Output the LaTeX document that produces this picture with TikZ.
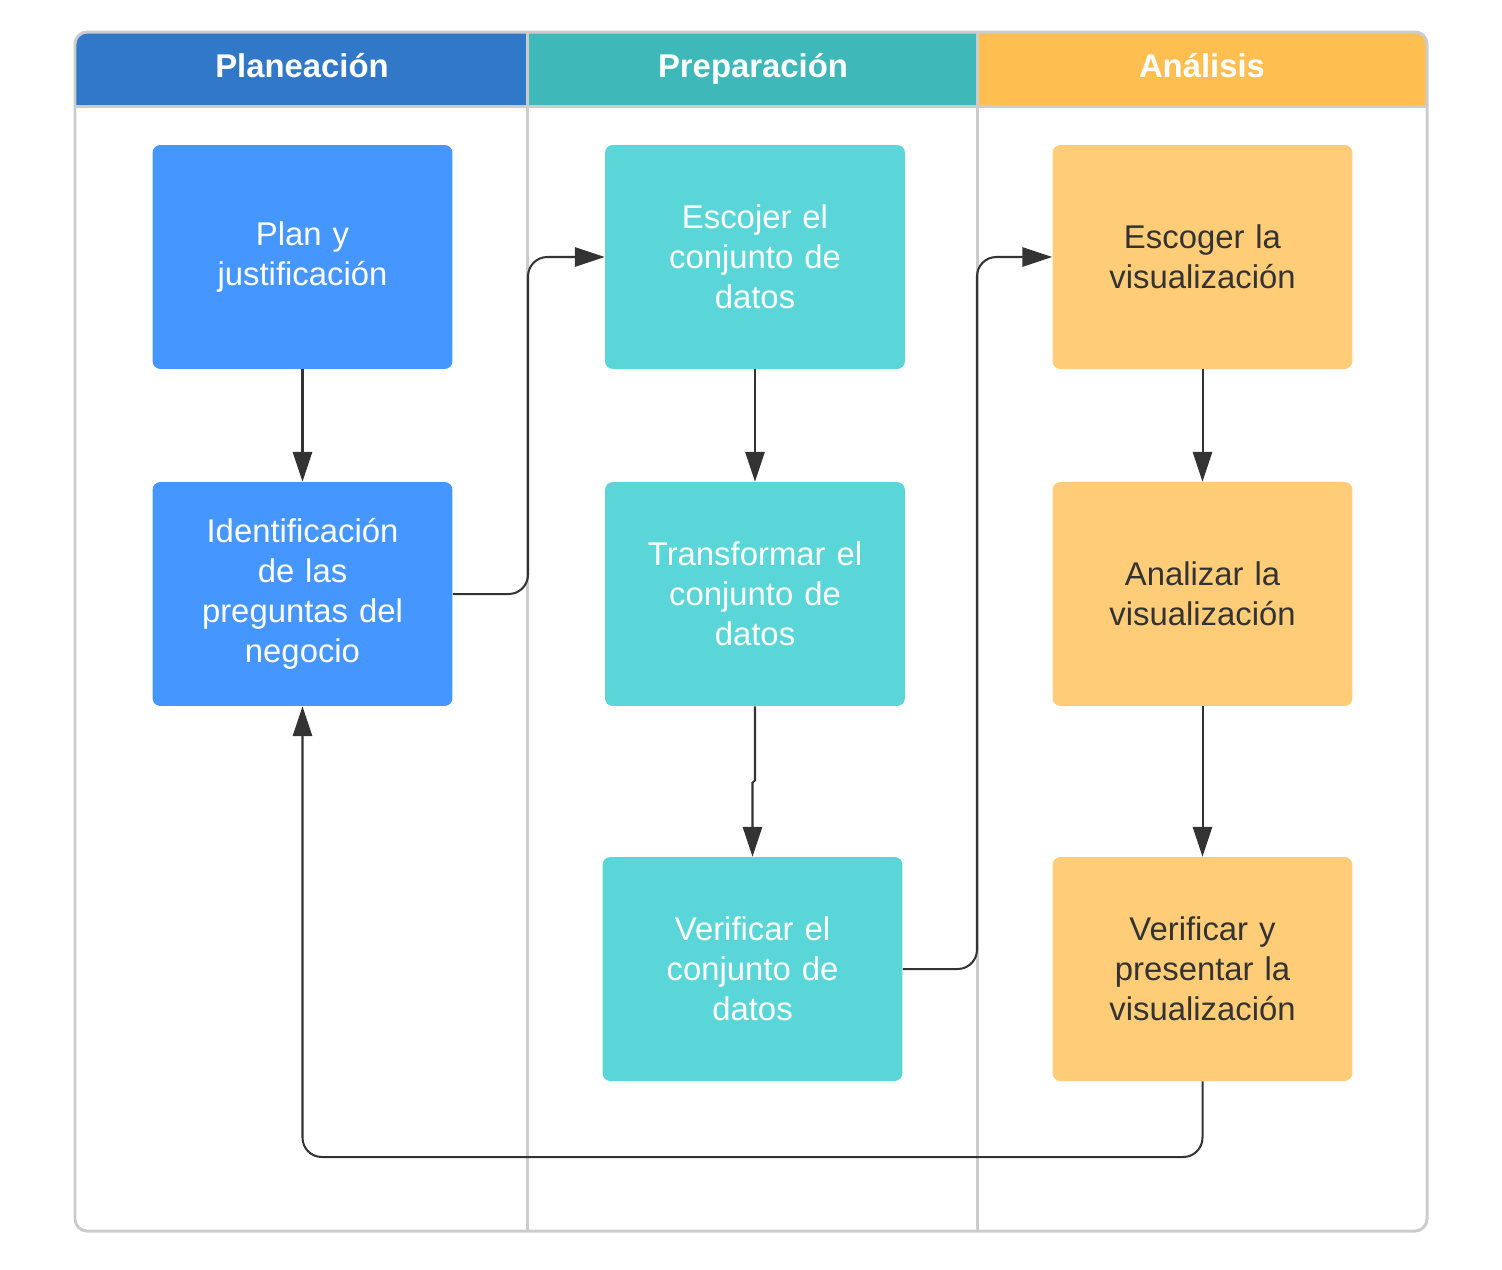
\documentclass[tikz,border=0pt]{standalone}
\usepackage{fontspec}
\setmainfont{Liberation Sans}
\usetikzlibrary{arrows.meta,calc}
\definecolor{hdrblue}{HTML}{3278C8}
\definecolor{hdrteal}{HTML}{3EB8B8}
\definecolor{hdrorange}{HTML}{FFBE50}
\definecolor{boxblue}{HTML}{4596FF}
\definecolor{boxteal}{HTML}{5AD6D8}
\definecolor{boxorange}{HTML}{FFCC77}
\definecolor{framegray}{HTML}{CCCCCC}
\definecolor{ink}{HTML}{333333}
\begin{document}
\begin{tikzpicture}[x=0.02cm,y=-0.02cm,
  procbox/.style={rounded corners=4.5pt, minimum width=6cm, minimum height=4.48cm,
    text width=5.6cm, align=center, inner sep=0pt,
    font=\fontsize{18.7}{22.7}\selectfont},
  bluebox/.style={procbox, fill=boxblue, text=white},
  tealbox/.style={procbox, fill=boxteal, text=white},
  orangebox/.style={procbox, fill=boxorange, text=ink},
  header/.style={font=\bfseries\fontsize{18.7}{22.7}\selectfont, text=white, anchor=base, inner sep=0pt},
  lane/.style={draw=framegray, line width=1.7pt},
  flow/.style={draw=ink, line width=1.15pt, rounded corners=11pt,
    -{Triangle[width=11pt,length=17pt]}}
]
\useasboundingbox (0,0) rectangle (1502,1269);

% header fills
\begin{scope}
  \clip[rounded corners=6.8pt] (75,32) rectangle (1427,1231);
  \fill[hdrblue] (75,32) rectangle (527.5,106);
  \fill[hdrteal] (527.5,32) rectangle (977.5,106);
  \fill[hdrorange] (977.5,32) rectangle (1427,106);
\end{scope}
\draw[lane] (75,106) -- (1427,106);
\draw[lane] (527.5,32) -- (527.5,1231);
\draw[lane] (977.5,32) -- (977.5,1231);
\draw[lane, rounded corners=6.8pt] (75,32) rectangle (1427,1231);

\node[header] (h1) at (302,77) {Planeación};
\node[header] (h2) at (753,77) {Preparación};
\node[header] (h3) at (1202,77) {Análisis};

% process boxes
\node[bluebox] (P) at (302.5,257) {Plan y\\justificación};
\node[bluebox] (I) at (302.5,594) {Identificación\\de las\\preguntas del\\negocio};
\node[tealbox] (E) at (755,257) {Escojer el\\conjunto de\\datos};
\node[tealbox] (T) at (755,594) {Transformar el\\conjunto de\\datos};
\node[tealbox] (V) at (752.5,969) {Verificar el\\conjunto de\\datos};
\node[orangebox] (S) at (1202.5,257) {Escoger la\\visualización};
\node[orangebox] (A) at (1202.5,594) {Analizar la\\visualización};
\node[orangebox] (R) at (1202.5,969) {Verificar y\\presentar la\\visualización};

% routing coordinates
\coordinate (lane2) at (528,0);
\coordinate (lane3) at (977,0);
\coordinate (bottom) at (0,1157);

% connectors
\draw[flow] (P.south) -- (I.north);
\draw[flow] (I.east) -| (lane2 |- E.west) -- (E.west);
\draw[flow] (E.south) -- (T.north);
\draw[flow, rounded corners=0pt] (T.south) -- ($(T.south)+(0,74)$) -- ($(V.north)+(0,-74)$) -- (V.north);
\draw[flow] (V.east) -| (lane3 |- S.west) -- (S.west);
\draw[flow] (S.south) -- (A.north);
\draw[flow] (A.south) -- (R.north);
\draw[flow] (R.south) |- (I.south |- bottom) -- (I.south);
\end{tikzpicture}
\end{document}
